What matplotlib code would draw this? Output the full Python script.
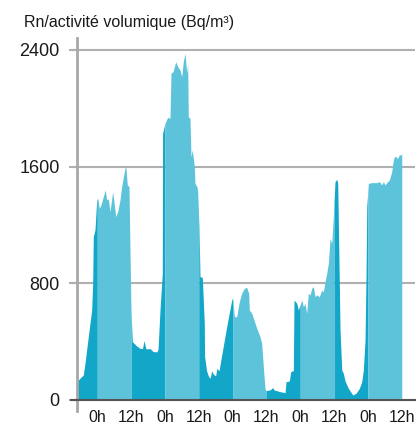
import numpy as np
import matplotlib
matplotlib.use("Agg")
import matplotlib.pyplot as plt

plt.rcParams['font.family'] = ['Liberation Sans', 'DejaVu Sans']

# time in hours relative to the first midnight
hours = [-7.31, -6.14, -4.97, -4.36, -3.19, -1.99, -1.63, -1.42, -0.82, -0.21,
         0.14, 0.71, 1.31, 2.13, 2.84, 3.34, 3.90, 4.51, 5.46, 5.93, 6.53, 7.24, 8.05, 8.66,
         9.47, 10.08, 10.64, 11.25, 11.60, 11.96, 12.42,
         12.77, 13.98, 15.15, 16.04, 16.57, 17.28, 18.70, 19.87, 21.08, 21.54, 22.25, 22.78,
         23.06, 23.17,
         24.02, 24.98, 25.79, 26.15, 26.86, 27.82, 28.53, 29.34, 29.95, 30.51, 31.12, 31.72,
         32.07, 32.29, 32.89, 33.24, 33.71, 34.42, 34.66, 35.37, 35.62,
         36.08, 36.44, 37.25, 37.96, 38.06, 38.77, 39.48, 40.08, 40.55, 41.27, 41.97, 42.43,
         43.18, 44.14, 45.91, 47.69, 48.04,
         48.61, 49.46, 50.38, 51.23, 52.16, 53.01, 53.72, 53.93, 54.78, 55.60, 56.56, 57.73,
         58.33, 58.90, 59.50,
         59.75, 61.27, 62.23, 62.69, 64.82, 66.60, 66.95, 68.12, 68.62, 69.54, 69.79, 70.75, 71.31,
         72.52, 73.09, 73.69, 74.29, 74.86, 75.47, 76.07, 76.64, 77.24, 77.84, 78.77, 79.62,
         80.19, 80.79, 81.39, 81.96, 82.56, 83.16,
         83.73, 84.33, 84.94, 85.29, 85.76, 86.11, 86.72, 87.28, 87.88, 89.05, 90.62, 91.79,
         92.96, 93.81, 94.38, 94.98, 95.34, 95.59,
         96.16, 97.37, 99.13, 100.06, 100.90, 101.47, 102.07, 102.67, 103.59, 104.45, 105.02,
         105.37, 106.02, 106.44, 107.15, 107.75, 108.0]

radon = [125, 149, 171, 251, 434, 617, 800, 1120, 1165, 1371,
         1383, 1314, 1337, 1394, 1440, 1371, 1380, 1291, 1428, 1359, 1257, 1290, 1371, 1462,
         1554, 1611, 1474, 1462, 1028, 617, 400,
         393, 370, 354, 352, 407, 350, 352, 331, 330, 345, 617, 780,
         868, 1828,
         1897, 1938, 1931, 2240, 2250, 2319, 2285, 2262, 2216, 2319, 2376, 2240,
         2308, 1942, 1930, 1668, 1714, 1600, 1485, 1462, 1428,
         1188, 845, 841, 525, 300, 200, 160, 150, 200, 175, 165, 217,
         200, 308, 503, 685, 700,
         571, 571, 674, 731, 765, 772, 731, 617, 594, 548, 491, 434,
         388, 228, 80,
         64, 69, 85, 69, 57, 50, 125, 130, 194, 201, 685, 663, 617,
         685, 640, 660, 594, 731, 720, 765, 777, 708, 720, 708, 754,
         740, 811, 868, 937, 1108, 1074,
         1257, 1497, 1513, 1485, 914, 480, 206, 183, 130, 80, 34, 46,
         80, 125, 206, 411, 868, 1325,
         1485, 1490, 1490, 1497, 1474, 1497, 1474, 1490, 1508, 1565, 1645,
         1668, 1668, 1655, 1680, 1680, 1690]

tick_hours = [0, 12, 24, 36, 48, 60, 72, 84, 96, 108]
tick_labels = ['0h', '12h', '0h', '12h', '0h', '12h', '0h', '12h', '0h', '12h']
y_ticks = [0, 800, 1600, 2400]
title = 'Rn/activité volumique (Bq/m³)'

DARK = '#12a6c8'
LIGHT = '#5dc3da'

h = np.array(hours)
v = np.array(radon)

fig = plt.figure(figsize=(4.17, 4.26), dpi=100)
ax = fig.add_axes([70.5 / 417, (426 - 410.9) / 426, 344.5 / 417, (410.9 - 38.2) / 426])

# segments alternating colour every 12 h
edges = [h[0]] + [b for b in tick_hours if h[0] < b < h[-1]] + [h[-1]]
for i in range(len(edges) - 1):
    a, b = edges[i], edges[i + 1]
    inner = (h > a) & (h < b)
    xs = np.concatenate([[a], h[inner], [b]])
    ys = np.concatenate([[np.interp(a, h, v)], v[inner], [np.interp(b, h, v)]])
    mid = (a + b) / 2
    col = LIGHT if (mid % 24) < 12 else DARK
    ax.fill_between(xs, 0, ys, color=col, linewidth=0, zorder=2)

ax.set_xlim(-9.5, 112.7)
ax.set_ylim(-75, 2480)

for s in ['top', 'right']:
    ax.spines[s].set_visible(False)
ax.spines['left'].set_position(('data', h[0] - 0.05))
ax.spines['left'].set_color('#a8a8a8')
ax.spines['left'].set_linewidth(2)
ax.spines['bottom'].set_position(('data', 0))
ax.spines['bottom'].set_color('#555555')
ax.spines['bottom'].set_linewidth(1.5)
ax.spines['bottom'].set_zorder(3)

ax.set_yticks(y_ticks)
ax.set_yticklabels([str(t) for t in y_ticks])
ax.set_xticks(tick_hours)
ax.set_xticklabels(tick_labels)
ax.tick_params(axis='y', length=6, width=1.5, color='#b0b0b0', pad=6, labelsize=13,
               labelcolor='#1a1a1a')
ax.tick_params(axis='x', length=0, pad=7.5, labelsize=11.5, labelcolor='#1a1a1a')
ax.grid(axis='y', color='#b0b0b0', linewidth=1.5, zorder=1)
ax.set_axisbelow(True)
for gl in ax.get_ygridlines():
    gl.set_zorder(1)

fig.text(24 / 417, 1 - 22 / 426, title, fontsize=11.5, color='#1a1a1a', ha='left', va='center')

fig.savefig('out.png', dpi=100)
